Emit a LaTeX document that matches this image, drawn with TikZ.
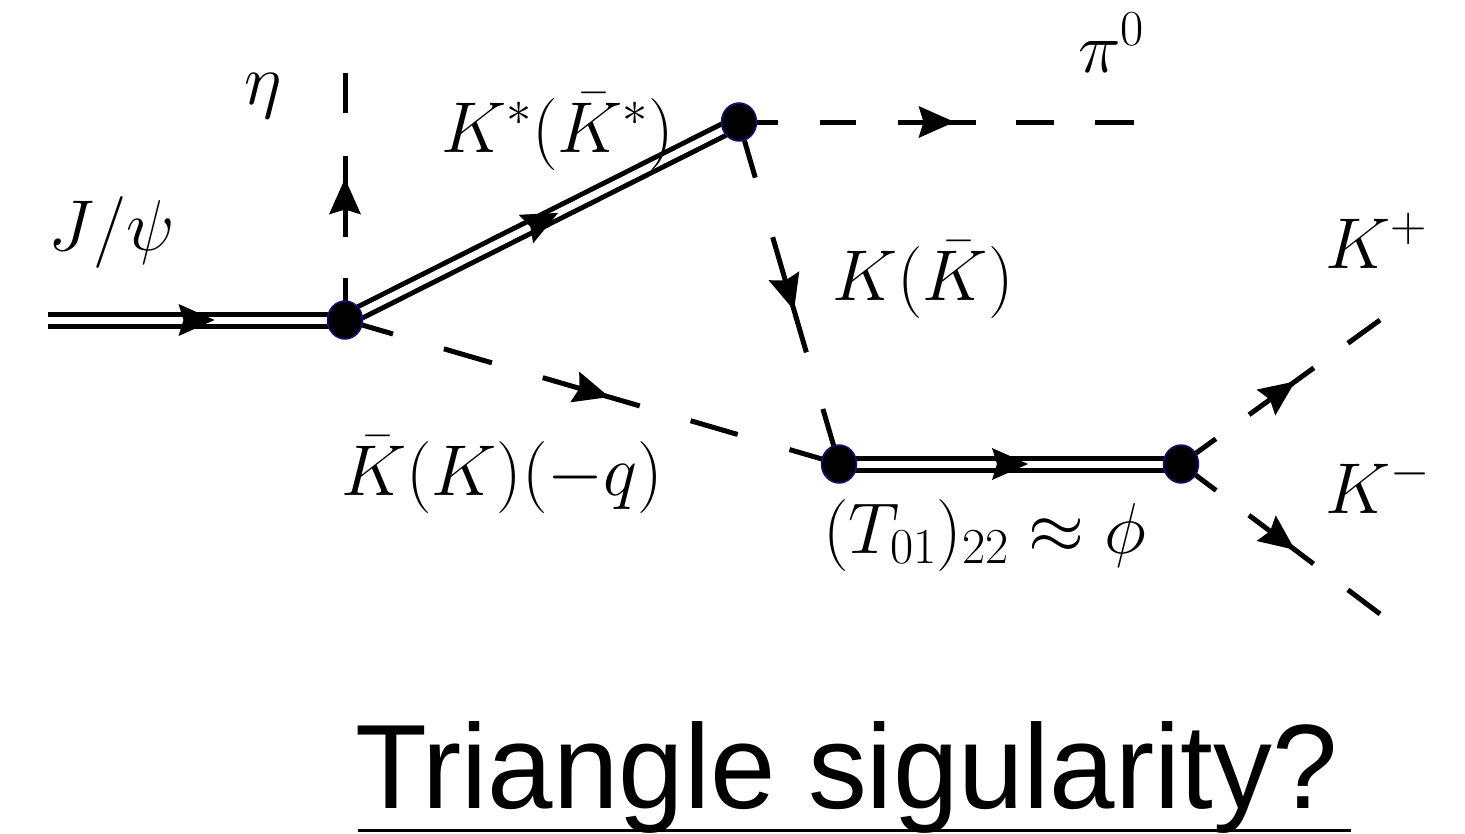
\RequirePackage{fix-cm}
\documentclass[tikz,border=0pt]{standalone}
\usepackage{fontspec}
\newfontfamily\titlefont{Liberation Sans}
\usetikzlibrary{decorations.markings,shapes.geometric}
\definecolor{vblue}{RGB}{20,20,120}
\tikzset{
  solidline/.style={line width=5pt},
  dblline/.style={double, double distance=7pt, line width=5pt},
  midarrow/.style={postaction={decorate},
    decoration={markings, mark=at position 0.5 with {%
      \fill[black] (18pt,0pt) -- (-18pt,16pt) -- (-13pt,0pt) -- (-18pt,-16pt) -- cycle;}}},
  vertex/.style={ellipse, fill=black, draw=vblue, line width=1.5pt,
    minimum width=35pt, minimum height=38pt, inner sep=0pt},
  lbl/.style={anchor=base west, inner sep=0pt, font=\fontsize{72}{86}\selectfont},
}
\begin{document}
\begin{tikzpicture}[x=1pt,y=-1pt]
\fill[white] (0,0) rectangle (1465,833);
\useasboundingbox (0,0) rectangle (1465,833);
% vertices and free ends
\coordinate (v1) at (345,320);
\coordinate (v2) at (739,122);
\coordinate (v3) at (839,464);
\coordinate (v4) at (1181,464);
\coordinate (jin) at (48,320);
\coordinate (etaend) at (345,73);
\coordinate (piend) at (1134,122);
\coordinate (kpend) at (1380,320);
\coordinate (kmend) at (1380,614);
% propagators
\draw[dblline, midarrow] (jin) -- (v1);
\draw[dblline, midarrow] (v1) -- (v2);
\draw[dblline, midarrow] (v3) -- (v4);
\draw[solidline, midarrow, dash pattern=on 42pt off 41pt on 81pt off 43pt on 40pt off 100pt] (v1) -- (etaend);
\draw[solidline, midarrow, dash pattern=on 50pt off 53pt on 50pt off 53pt on 101pt off 53pt on 49pt off 54pt on 52pt off 100pt] (v1) -- (v3);
\draw[solidline, midarrow, dash pattern=on 39pt off 42pt on 36pt off 42pt on 78pt off 40pt on 38pt off 41pt on 39pt off 100pt] (v2) -- (piend);
\draw[solidline, midarrow, dash pattern=on 58pt off 62pt on 120pt off 59pt on 60pt off 100pt] (v2) -- (v3);
\draw[solidline, midarrow, dash pattern=on 43pt off 41pt on 80pt off 42pt on 40pt off 100pt] (v4) -- (kpend);
\draw[solidline, midarrow, dash pattern=on 44pt off 41pt on 81pt off 43pt on 41pt off 100pt] (v4) -- (kmend);
% vertex dots
\node[vertex] (V1) at (v1) {};
\node[vertex] (V2) at (v2) {};
\node[vertex] (V3) at (v3) {};
\node[vertex] (V4) at (v4) {};
% labels
\node[lbl] (leta) at (244,104) {$\eta$};
\node[lbl] (ljpsi) at (48,250) {$J/\psi$};
\node[lbl] (lkstar) at (441,152) {$K^*(\bar K^*)$};
\node[lbl] (lpi) at (1078,72) {$\pi^0$};
\node[lbl] (lk) at (832,300) {$K(\bar K)$};
\node[lbl] (lkp) at (1325,268) {$K^+$};
\node[lbl] (lkm) at (1325,513) {$K^-$};
\node[lbl] (lkbar) at (341,495) {$\bar K(K)(-q)$};
\node[lbl] (lphi) at (823,553) {$(T_{01})_{22}\approx\phi$};
% title
\node[anchor=base west, inner sep=0pt, font=\titlefont\fontsize{120}{140}\selectfont] (title) at (355,808) {\scalebox{0.98}[1]{Triangle sigularity?}};
\coordinate (ulA) at (358,830.5);
\coordinate (ulB) at (1351,830.5);
\draw[line width=3pt] (ulA) -- (ulB);
\end{tikzpicture}
\end{document}
